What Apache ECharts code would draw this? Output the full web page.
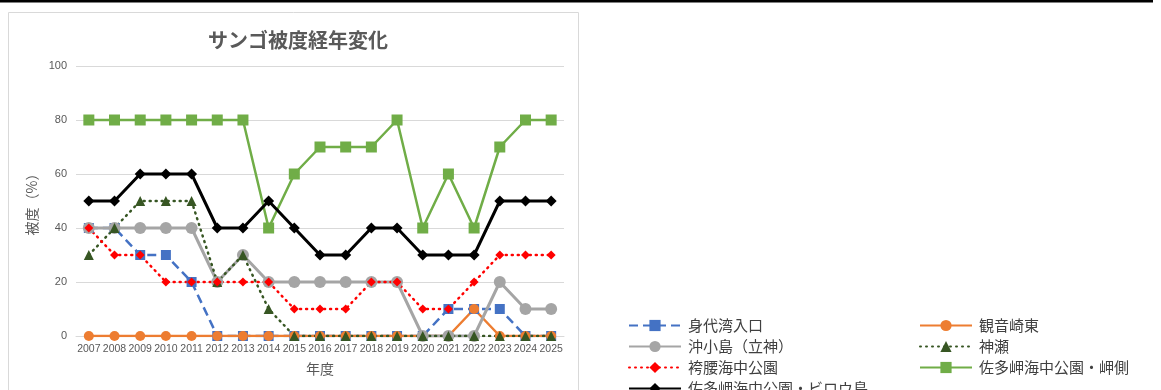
<!DOCTYPE html>
<html>
<head>
<meta charset="utf-8">
<script src="https://cdn.jsdelivr.net/npm/echarts@6/dist/echarts.min.js"></script>
<style>
html,body{margin:0;padding:0;background:#fff;}
#c{width:1161px;height:390px;}
</style>
</head>
<body>
<div id="c"></div>
<script>
const years = ['2007','2008','2009','2010','2011','2012','2013','2014','2015','2016','2017','2018','2019','2020','2021','2022','2023','2024','2025'];
const yTicks = [0, 20, 40, 60, 80, 100];
const shiroWanIriguchi = [40,40,30,30,20,0,0,0,0,0,0,0,0,0,10,10,10,0,0];
const kannonzakiHigashi = [0,0,0,0,0,0,0,0,0,0,0,0,0,0,0,10,0,0,0];
const okinoKojima = [40,40,40,40,40,20,30,20,20,20,20,20,20,0,0,0,20,10,10];
const kamise = [30,40,50,50,50,20,30,10,0,0,0,0,0,0,0,0,0,0,0];
const hakamagoshi = [40,30,30,20,20,20,20,20,10,10,10,20,20,10,10,20,30,30,30];
const satamisakiMisaki = [80,80,80,80,80,80,80,40,60,70,70,70,80,40,60,40,70,80,80];
const satamisakiBirou = [50,50,60,60,60,40,40,50,40,30,30,40,40,30,30,30,50,50,50];

const names = ['身代湾入口','観音崎東','沖小島（立神）','神瀬','袴腰海中公園','佐多岬海中公園・岬側','佐多岬海中公園・ビロウ島'];
const FONT = '"Noto Sans CJK JP", "Noto Sans", sans-serif';
const NUMFONT = '"Liberation Sans", Arial, sans-serif';
const TXT = '#595959';

function mk(name, data, color, symbol, size, lineType, width, cap) {
  return {
    name: name, type: 'line', data: data,
    symbol: symbol, symbolSize: size,
    itemStyle: {color: color, borderWidth: 0},
    lineStyle: {color: color, width: width, type: lineType, cap: cap || 'butt'},
    animation: false
  };
}

// legend slots: [series index, left, top]
const legendSlots = [[0,628,318],[1,919,318],[2,628,339],[3,919,339],[4,628,360],[5,919,360],[6,628,381]];
const legends = legendSlots.map(function(s){
  return {
    orient: 'horizontal', left: s[1], top: s[2], itemWidth: 52, itemHeight: 14,
    data: [names[s[0]]], padding: 0,
    textStyle: {fontSize: 15, color: '#404040', fontFamily: FONT, padding: [0,0,0,2]},
    selectedMode: false
  };
});

const chart = echarts.init(document.getElementById('c'), null, {renderer: 'canvas'});
chart.setOption({
  animation: false,
  textStyle: {fontFamily: FONT},
  title: {
    text: 'サンゴ被度経年変化',
    left: 293, top: 25, textAlign: 'center',
    textStyle: {fontSize: 20, fontWeight: 'bold', color: TXT, fontFamily: FONT}
  },
  graphic: [
    {type: 'rect', shape: {x: 0, y: 0, width: 1153, height: 2.5}, style: {fill: '#000'}, silent: true},
    {type: 'rect', shape: {x: 8.5, y: 12.5, width: 570, height: 400}, style: {fill: 'none', stroke: '#D9D9D9', lineWidth: 1}, silent: true, z: -1}
  ],
  grid: {left: 76, right: 597, top: 66, bottom: 54, containLabel: false},
  xAxis: {
    type: 'category', data: years, boundaryGap: true,
    name: '年度', nameLocation: 'middle', nameGap: 26,
    nameTextStyle: {fontSize: 14, color: TXT, fontFamily: FONT},
    axisLine: {lineStyle: {color: '#D9D9D9'}},
    axisTick: {show: false},
    axisLabel: {fontSize: 10.5, color: TXT, margin: 8, interval: 0, fontFamily: NUMFONT}
  },
  yAxis: {
    type: 'value', min: yTicks[0], max: yTicks[yTicks.length-1], interval: yTicks[1]-yTicks[0],
    name: '被度（%）', nameLocation: 'middle', nameGap: 37, nameRotate: 90,
    nameTextStyle: {fontSize: 14, color: TXT, fontFamily: FONT},
    axisLine: {show: false}, axisTick: {show: false},
    axisLabel: {fontSize: 11, color: TXT, margin: 9, fontFamily: NUMFONT},
    splitLine: {lineStyle: {color: '#D9D9D9', width: 1}}
  },
  legend: legends,
  series: [
    mk(names[0], shiroWanIriguchi, '#4472C4', 'rect', 10, [9,5], 2.5),
    mk(names[1], kannonzakiHigashi, '#ED7D31', 'circle', 10, 'solid', 2.5),
    mk(names[2], okinoKojima, '#A5A5A5', 'circle', 12, 'solid', 3),
    mk(names[3], kamise, '#375623', 'triangle', 10, [1,5], 2.5, 'round'),
    mk(names[4], hakamagoshi, '#FF0000', 'diamond', 9, [1,5], 2.5, 'round'),
    mk(names[5], satamisakiMisaki, '#70AD47', 'rect', 11, 'solid', 2.5),
    mk(names[6], satamisakiBirou, '#000000', 'diamond', 11, 'solid', 3)
  ]
});
</script>
</body>
</html>
